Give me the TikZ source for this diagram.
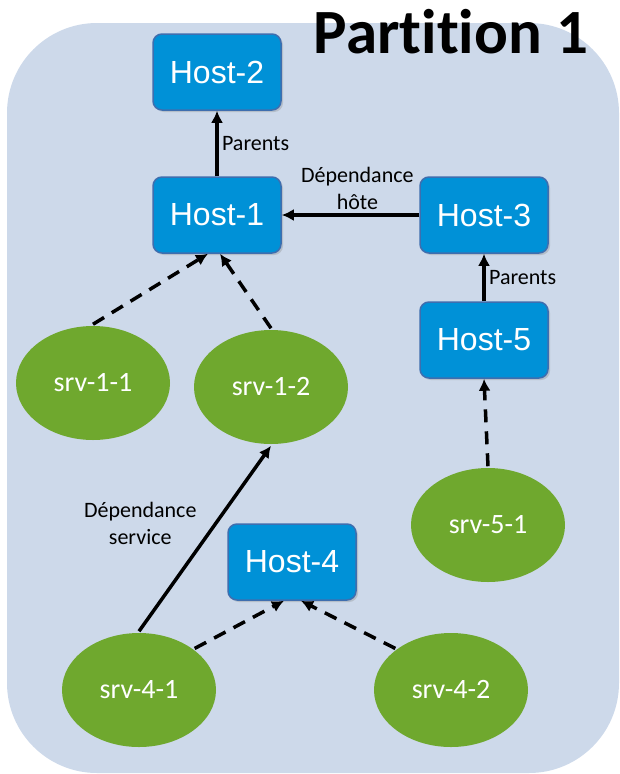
\documentclass[tikz,border=0pt]{standalone}
\usepackage{fontspec}
\setmainfont{Carlito}[Ligatures=NoCommon]
\newfontfamily\hostfont{Liberation Sans}
\usetikzlibrary{arrows.meta,shapes.geometric,shadows}
\definecolor{part_blue}{RGB}{205,217,234}
\definecolor{host_blue}{RGB}{0,145,215}
\definecolor{host_edge}{RGB}{62,110,175}
\definecolor{srv_green}{RGB}{111,168,46}

\begin{document}
\begin{tikzpicture}[line width=3.5pt,>={Latex[length=12pt,width=12pt]},x=1pt,y=-1pt]
    \tikzstyle{host}=[draw=host_edge, line width=1.5pt, fill=host_blue, rounded corners=9pt, minimum width=128pt, minimum height=76pt, text=white, font=\hostfont\fontsize{32}{36}\selectfont, drop shadow={shadow xshift=2pt, shadow yshift=-2pt, opacity=0.3}]
    \tikzstyle{srv}=[ellipse, fill=srv_green, minimum width=154pt, minimum height=114pt, text=white, font=\fontsize{28}{34}\selectfont]
    \tikzstyle{lbl}=[text=black, font=\fontsize{22}{27}\selectfont, align=center]
    \tikzstyle{dep}=[dash pattern=on 13pt off 9pt]

    \useasboundingbox (0,0) rectangle (619,774);
    \fill[part_blue, rounded corners=90pt] (7,23) rectangle (619,773);
    \node[font=\bfseries\fontsize{63}{70}\selectfont, anchor=base] (title) at (451,53) {Partition 1};

    \node[host] (host2) at (217,72)  {Host-2};
    \node[host] (host1) at (217,215) {Host-1};
    \node[host] (host3) at (484,215) {Host-3};
    \node[host] (host5) at (484,340) {Host-5};
    \node[host] (host4) at (292,562) {Host-4};
    \node[srv] (srv11) at (93,383)  {srv-1-1};
    \node[srv] (srv12) at (271,387) {srv-1-2};
    \node[srv] (srv51) at (488,525) {srv-5-1};
    \node[srv] (srv41) at (139,690) {srv-4-1};
    \node[srv] (srv42) at (451,690) {srv-4-2};

    \path[->]
     (host1) edge node[lbl, right] {Parents} (host2)
     (host3) edge node[lbl, above, pos=0.45] {Dépendance\\hôte} (host1)
     (host5) edge node[lbl, right] {Parents} (host3)
     (srv41.north) edge node[lbl, left=14pt, pos=0.58] {Dépendance\\service} (srv12.south)
     (srv11.north) edge[dep] ([xshift=-9pt]host1.south)
     (srv12.north) edge[dep] ([xshift=3pt]host1.south)
     (srv51.north) edge[dep] (host5.south)
     (srv41.north east) edge[dep] ([xshift=-8pt]host4.south)
     (srv42.north west) edge[dep] ([xshift=9pt]host4.south)
     ;
\end{tikzpicture}
\end{document}
